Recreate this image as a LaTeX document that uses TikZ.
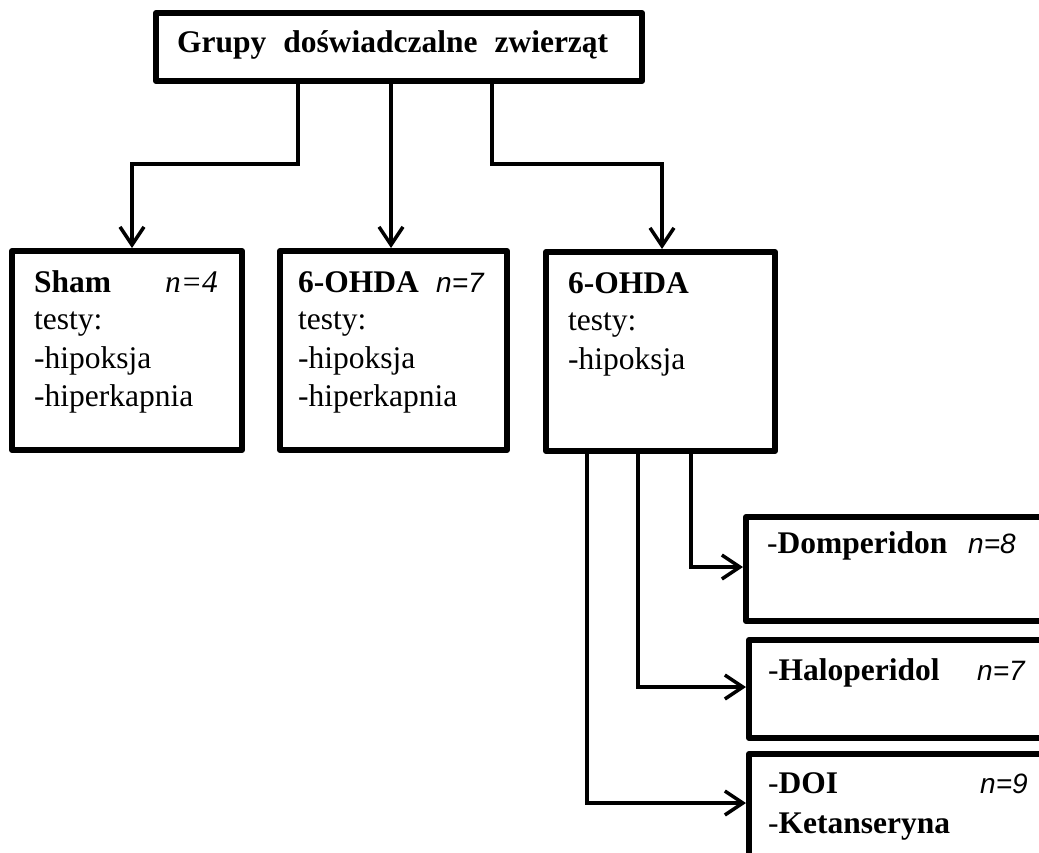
\documentclass[tikz,border=0pt]{standalone}
\usepackage{fontspec}
\setmainfont{Liberation Serif}
\newfontfamily\nfont{Liberation Sans}
\usetikzlibrary{arrows.meta}
\tikzset{
  box/.style={draw, line width=6pt, line join=round, inner sep=0pt, fill=white},
  txt/.style={anchor=base west, inner sep=0pt, font=\fontsize{31.5}{38}\selectfont},
  ntxt/.style={anchor=base west, inner sep=0pt, font=\nfont\itshape\fontsize{28}{34}\selectfont},
  arr/.style={line width=3.5pt, -{Straight Barb[length=18pt,width=24pt]}},
}
\begin{document}
\begin{tikzpicture}[x=1pt,y=-1pt]
\useasboundingbox (0,0) rectangle (1039,852);
\clip (0,0) rectangle (1039,852);
% boxes
\node[box, minimum width=486pt, minimum height=68pt] (top) at (399,47) {};
\node[box, minimum width=230pt, minimum height=199pt] (b1) at (127,350.5) {};
\node[box, minimum width=227pt, minimum height=199pt] (b2) at (393.5,350.5) {};
\node[box, minimum width=229pt, minimum height=199pt] (b3) at (660.5,351.5) {};
\node[box, minimum width=314pt, minimum height=104pt] (dom) at (903,569) {};
\node[box, minimum width=311pt, minimum height=98pt] (hal) at (904.5,689) {};
\node[box, minimum width=311pt, minimum height=126pt] (doi) at (904.5,817) {};
% texts
\node[txt] (ttop) at (177,52) {\makebox[431pt][s]{\bfseries Grupy doświadczalne zwierząt}};
\node[txt] (t1a) at (34,292) {\bfseries Sham};
\node[txt] (t1n) at (165,292) {\itshape n=4};
\node[txt] (t1b) at (34,329) {testy:};
\node[txt] (t1c) at (34,368) {-hipoksja};
\node[txt] (t1d) at (34,406) {-hiperkapnia};
\node[txt] (t2a) at (298,292) {\bfseries 6-OHDA};
\node[ntxt] (t2n) at (436,292) {n=7};
\node[txt] (t2b) at (298,329) {testy:};
\node[txt] (t2c) at (298,368) {-hipoksja};
\node[txt] (t2d) at (298,406) {-hiperkapnia};
\node[txt] (t3a) at (568,293) {\bfseries 6-OHDA};
\node[txt] (t3b) at (568,330) {testy:};
\node[txt] (t3c) at (568,369) {-hipoksja};
\node[txt] (tdom) at (767,553) {-\textbf{Domperidon}};
\node[ntxt] (ndom) at (968,553) {n=8};
\node[txt] (thal) at (768,680) {-\textbf{Haloperidol}};
\node[ntxt] (nhal) at (977,680) {n=7};
\node[txt] (tdoi) at (768,793) {-\textbf{DOI}};
\node[ntxt] (ndoi) at (980,793) {n=9};
\node[txt] (tket) at (768,833) {-\textbf{Ketanseryna}};
% connector bends
\coordinate (k1) at (298,164);
\coordinate (k3) at (492,164);
\coordinate (r1) at (691,567);
\coordinate (r2) at (638,687);
\coordinate (r3) at (587,803);
% connectors
\draw[arr] (top.south -| k1) -- (k1) -| ([xshift=5pt]b1.north);
\draw[arr] ([xshift=-2.5pt]top.south -| b2.north) -- ([xshift=-2.5pt]b2.north);
\draw[arr] (top.south -| k3) -- (k3) -| ([xshift=1.5pt]b3.north);
\draw[arr] (b3.south -| r1) |- (dom.west |- r1);
\draw[arr] (b3.south -| r2) |- (hal.west |- r2);
\draw[arr] (b3.south -| r3) |- (doi.west |- r3);
\end{tikzpicture}
\end{document}
